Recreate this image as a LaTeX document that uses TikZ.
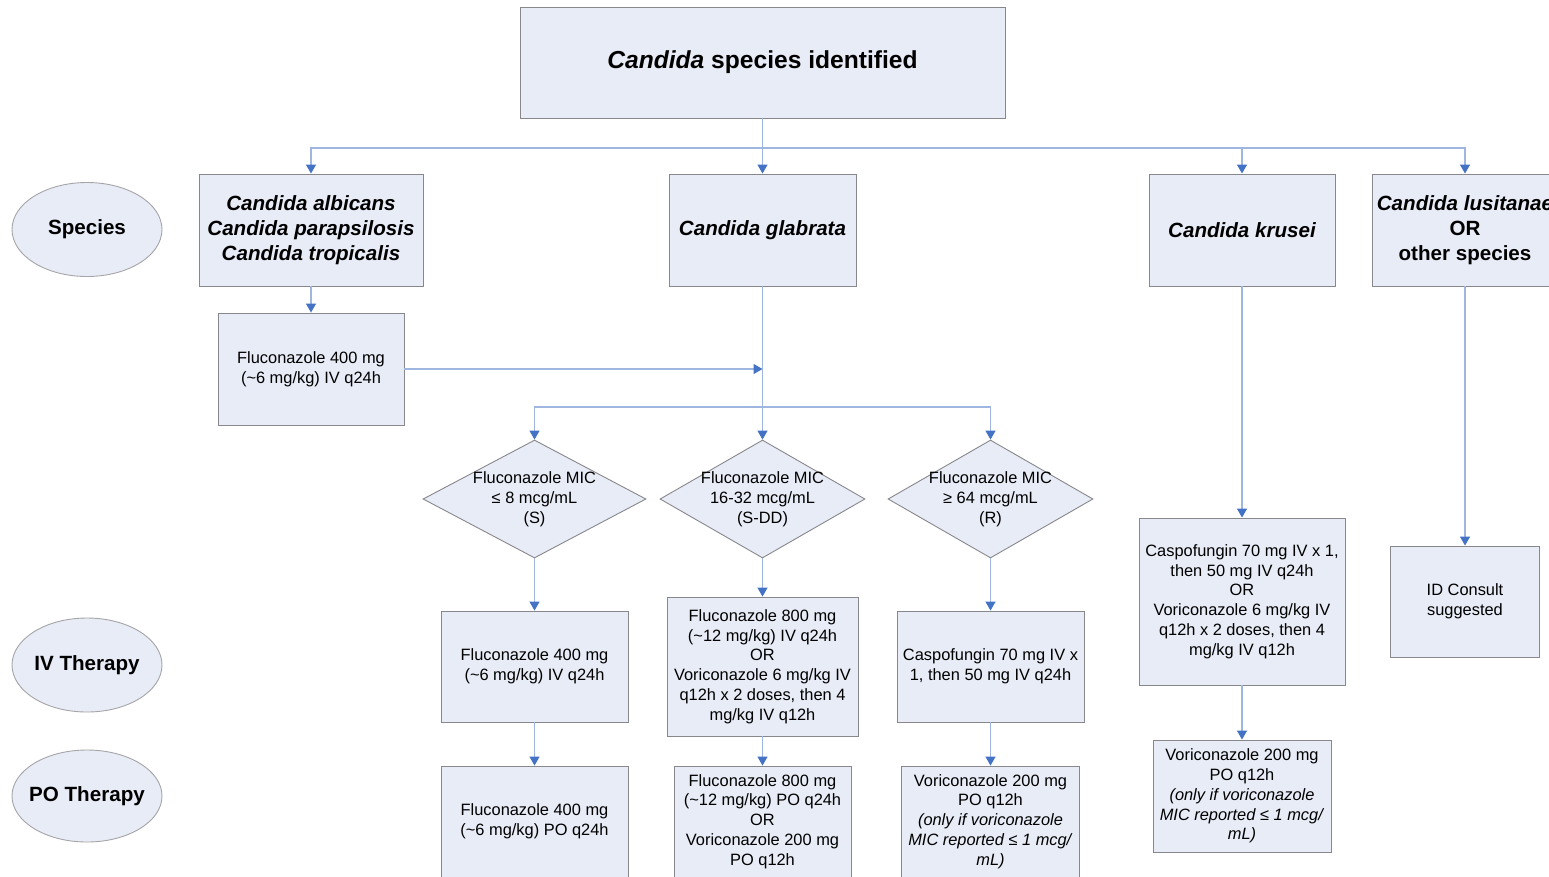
\documentclass[tikz,border=0pt]{standalone}
\usepackage{fontspec}
\setmainfont{Liberation Sans}
\usetikzlibrary{arrows.meta,shapes.geometric}
\definecolor{boxfill}{RGB}{232,236,246}
\definecolor{boxline}{RGB}{135,135,140}
\definecolor{linkc}{RGB}{158,182,224}
\definecolor{tipc}{RGB}{68,114,196}
\begin{document}
\begin{tikzpicture}[x=1pt,y=-1pt,
  wh/.style 2 args={minimum width=#1pt,minimum height=#2pt},
  base/.style={draw=boxline,fill=boxfill,line width=0.9pt,inner sep=0pt,align=center},
  box/.style={base,rectangle,font=\fontsize{16.4}{19.8}\selectfont},
  sbox/.style={base,rectangle,font=\fontsize{20.6}{25}\selectfont\bfseries\itshape},
  oval/.style={base,ellipse,draw=boxline!75},
  ovaltxt/.style={inner sep=0pt,font=\fontsize{20.6}{25}\selectfont\bfseries},
  diam/.style={base,diamond},
  txt/.style={inner sep=0pt,align=center,font=\fontsize{16.4}{19.8}\selectfont},
  link/.style={draw=linkc,line width=1.3pt},
  arr/.style={link,-{Triangle[color=tipc,width=10pt,length=9pt]}}
]
\useasboundingbox[fill=white] (0,0) rectangle (1549,876);

% category ovals
\node[oval,wh={150}{94}] (sp) at (87,229.5) {};
\node[ovaltxt] (spt) at (sp) {Species};
\node[oval,wh={150}{94}] (iv) at (87,665) {};
\node[ovaltxt] (ivt) at (iv) {IV Therapy};
\node[oval,wh={150}{92}] (po) at (87,796) {};
\node[ovaltxt] (pot) at (po) {PO Therapy};

% top
\node[box,wh={485}{111},font=\fontsize{24.6}{30}\selectfont\bfseries] (top) at (762.5,62.5) {\textit{Candida} species identified};

% species
\node[sbox,wh={224}{112}] (s1) at (311,230) {Candida albicans\\Candida parapsilosis\\Candida tropicalis};
\node[sbox,wh={187}{112}] (s2) at (762.5,230) {Candida glabrata};
\node[sbox,wh={186}{112}] (s3) at (1242,230) {Candida krusei};
\node[sbox,wh={186}{112}] (s4) at (1465,230) {Candida lusitanae\\\upshape OR\\\upshape other species};

% left branch
\node[box,wh={186}{112}] (f1) at (311,369) {Fluconazole 400 mg\\(\textasciitilde 6 mg/kg) IV q24h};
\coordinate (join) at (762.5,369);

% diamonds
\node[diam,wh={223}{118}] (d1) at (534.5,499) {};
\node[txt] (d1t) at (d1) {Fluconazole MIC\\≤ 8 mcg/mL\\(S)};
\node[diam,wh={205}{118}] (d2) at (762.5,499) {};
\node[txt] (d2t) at (d2) {Fluconazole MIC\\16-32 mcg/mL\\(S-DD)};
\node[diam,wh={205}{118}] (d3) at (990.5,499) {};
\node[txt] (d3t) at (d3) {Fluconazole MIC\\≥ 64 mcg/mL\\(R)};

% IV row
\node[box,wh={187}{111}] (b1) at (534.5,666.5) {Fluconazole 400 mg\\(\textasciitilde 6 mg/kg) IV q24h};
\node[box,wh={191}{139}] (b2) at (762.5,666.5) {Fluconazole 800 mg\\(\textasciitilde 12 mg/kg) IV q24h\\OR\\Voriconazole 6 mg/kg IV\\q12h x 2 doses, then 4\\mg/kg IV q12h};
\node[box,wh={187}{111}] (b3) at (990.5,666.5) {Caspofungin 70 mg IV x\\1, then 50 mg IV q24h};

% PO row
\node[box,wh={187}{111}] (p1) at (534.5,821.5) {Fluconazole 400 mg\\(\textasciitilde 6 mg/kg) PO q24h};
\node[box,wh={177}{111}] (p2) at (762.5,821.5) {Fluconazole 800 mg\\(\textasciitilde 12 mg/kg) PO q24h\\OR\\Voriconazole 200 mg\\PO q12h};
\node[box,wh={178}{111}] (p3) at (990.5,821.5) {Voriconazole 200 mg\\PO q12h\\\textit{(only if voriconazole}\\\textit{MIC reported ≤ 1 mcg/}\\\textit{mL)}};

% krusei
\node[box,wh={206}{167}] (k1) at (1242,601.5) {Caspofungin 70 mg IV x 1,\\then 50 mg IV q24h\\OR\\Voriconazole 6 mg/kg IV\\q12h x 2 doses, then 4\\mg/kg IV q12h};
\node[box,wh={178}{112}] (k2) at (1242,796) {Voriconazole 200 mg\\PO q12h\\\textit{(only if voriconazole}\\\textit{MIC reported ≤ 1 mcg/}\\\textit{mL)}};

% other
\node[box,wh={149}{111}] (id) at (1465,601.5) {ID Consult\\suggested};

% connectors
\coordinate (bus) at (762.5,148);
\coordinate (bus2) at (762.5,407);
\draw[link] (top.south) -- (bus);
\draw[arr] (bus) -| (s1.north);
\draw[arr] (bus) -- (s2.north);
\draw[arr] (bus) -| (s3.north);
\draw[arr] (bus) -| (s4.north);
\draw[arr] (s1) -- (f1);
\draw[arr] (f1.east) -- (join);
\draw[arr] (s2) -- (d2.north);
\draw[arr] (bus2) -| (d1.north);
\draw[arr] (bus2) -| (d3.north);
\draw[arr] (d1) -- (b1);
\draw[arr] (d2) -- (b2);
\draw[arr] (d3) -- (b3);
\draw[arr] (b1) -- (p1);
\draw[arr] (b2) -- (p2);
\draw[arr] (b3) -- (p3);
\draw[arr] (s3) -- (k1);
\draw[arr] (k1) -- (k2);
\draw[arr] (s4) -- (id);
\end{tikzpicture}
\end{document}
